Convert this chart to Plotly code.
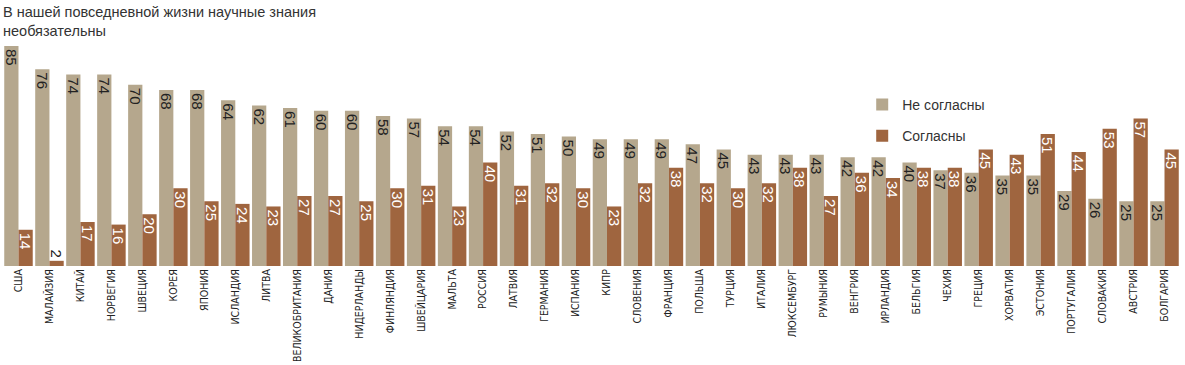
import plotly.graph_objects as go

countries = ["США", "МАЛАЙЗИЯ", "КИТАЙ", "НОРВЕГИЯ", "ШВЕЦИЯ", "КОРЕЯ", "ЯПОНИЯ", "ИСЛАНДИЯ",
             "ЛИТВА", "ВЕЛИКОБРИТАНИЯ", "ДАНИЯ", "НИДЕРЛАНДЫ", "ФИНЛЯНДИЯ", "ШВЕЙЦАРИЯ",
             "МАЛЬТА", "РОССИЯ", "ЛАТВИЯ", "ГЕРМАНИЯ", "ИСПАНИЯ", "КИПР", "СЛОВЕНИЯ",
             "ФРАНЦИЯ", "ПОЛЬША", "ТУРЦИЯ", "ИТАЛИЯ", "ЛЮКСЕМБУРГ", "РУМЫНИЯ", "ВЕНГРИЯ",
             "ИРЛАНДИЯ", "БЕЛЬГИЯ", "ЧЕХИЯ", "ГРЕЦИЯ", "ХОРВАТИЯ", "ЭСТОНИЯ", "ПОРТУГАЛИЯ",
             "СЛОВАКИЯ", "АВСТРИЯ", "БОЛГАРИЯ"]
disagree = [85, 76, 74, 74, 70, 68, 68, 64, 62, 61, 60, 60, 58, 57, 54, 54, 52, 51, 50, 49,
            49, 49, 47, 45, 43, 43, 43, 42, 42, 40, 37, 36, 35, 35, 29, 26, 25, 25]
agree = [14, 2, 17, 16, 20, 30, 25, 24, 23, 27, 27, 25, 30, 31, 23, 40, 31, 32, 30, 23,
         32, 38, 32, 30, 32, 38, 27, 36, 34, 38, 38, 45, 43, 51, 44, 53, 57, 45]

title_text = "В нашей повседневной жизни научные знания<br>необязательны"
name_dis = "Не согласны"
name_agr = "Согласны"

C_DIS = "#b5a78d"
C_AGR = "#9f653f"
FONT = "Liberation Sans"
NARROW = "DejaVu Sans Condensed, Liberation Sans"


def positions(vals):
    return ["outside" if v < 6 else "inside" for v in vals]


fig = go.Figure()
fig.add_trace(go.Bar(
    x=countries, y=disagree, name=name_dis, legendgroup="a",
    marker=dict(color=C_DIS, line=dict(width=0)),
    text=[str(v) for v in disagree], textposition=positions(disagree), textangle=90,
    insidetextanchor="end", constraintext="none",
    insidetextfont=dict(family=FONT, size=15, color="#222222"),
    outsidetextfont=dict(family=FONT, size=15, color="#222222"),
    hoverinfo="skip",
))
fig.add_trace(go.Bar(
    x=countries, y=agree, name=name_agr, legendgroup="b",
    marker=dict(color=C_AGR, line=dict(width=0)),
    text=[str(v) for v in agree], textposition=positions(agree), textangle=90,
    insidetextanchor="end", constraintext="none",
    insidetextfont=dict(family=FONT, size=15, color="#ffffff"),
    outsidetextfont=dict(family=FONT, size=15, color="#222222"),
    hoverinfo="skip",
))

fig.update_layout(
    width=1185, height=365,
    margin=dict(l=3, r=5, t=46, b=99),
    paper_bgcolor="white", plot_bgcolor="white",
    barmode="group", bargap=0.08, bargroupgap=0,
    showlegend=True,
    legend=dict(x=0.73, y=0.805, xanchor="left", yanchor="top",
                font=dict(family=FONT, size=14, color="#333333"),
                traceorder="grouped", tracegroupgap=10, bgcolor="rgba(0,0,0,0)"),
    xaxis=dict(tickangle=-90, showgrid=False, showline=False, ticks="",
               tickfont=dict(family=NARROW, size=10.5, color="#222222"),
               automargin=False),
    yaxis=dict(range=[0, 85], visible=False, showgrid=False, zeroline=False),
)
fig.add_annotation(
    text=title_text, xref="paper", yref="paper", x=-0.002, y=1.0, yshift=44,
    xanchor="left", yanchor="top", align="left", showarrow=False,
    font=dict(family=FONT, size=14.5, color="#333333"),
)

fig.write_html("out.html", config={"displayModeBar": False},
               post_script="document.body.style.margin='0';")
